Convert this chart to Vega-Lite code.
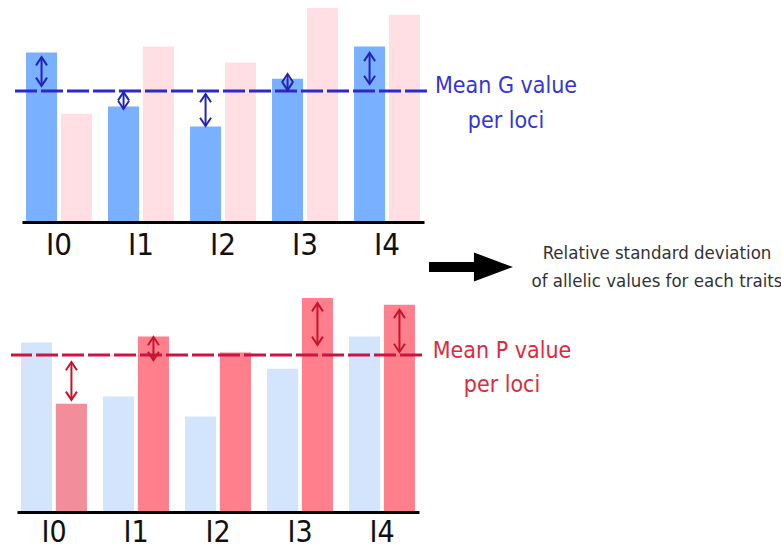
{
  "$schema": "https://vega.github.io/schema/vega-lite/v6.json",
  "background": "white",
  "padding": {"left": 9, "top": 1, "right": 0, "bottom": 0},
  "autosize": {"type": "pad"},
  "config": {"view": {"stroke": null}, "font": "DejaVu Sans Condensed, Liberation Sans"},
  "datasets": {
    "alleles": [
      {"locus": "I0", "trait": "G", "value": 76.6},
      {"locus": "I0", "trait": "P", "value": 48.8},
      {"locus": "I1", "trait": "G", "value": 52.0},
      {"locus": "I1", "trait": "P", "value": 79.3},
      {"locus": "I2", "trait": "G", "value": 43.0},
      {"locus": "I2", "trait": "P", "value": 72.0},
      {"locus": "I3", "trait": "G", "value": 64.7},
      {"locus": "I3", "trait": "P", "value": 96.8},
      {"locus": "I4", "trait": "G", "value": 79.3},
      {"locus": "I4", "trait": "P", "value": 93.8}
    ],
    "means": [
      {"trait": "G", "mean": 59.1, "label": "Mean G value\nper loci"},
      {"trait": "P", "mean": 70.9, "label": "Mean P value\nper loci"}
    ],
    "arrows": [
      {"locus": "I0", "trait": "G", "top": 74.5, "bottom": 61.4},
      {"locus": "I1", "trait": "G", "top": 58.6, "bottom": 50.9},
      {"locus": "I2", "trait": "G", "top": 57.7, "bottom": 43.2},
      {"locus": "I3", "trait": "G", "top": 66.8, "bottom": 59.5},
      {"locus": "I4", "trait": "G", "top": 76.4, "bottom": 62.3},
      {"locus": "I0", "trait": "P", "top": 67.7, "bottom": 50.5},
      {"locus": "I1", "trait": "P", "top": 79.1, "bottom": 68.6},
      {"locus": "I3", "trait": "P", "top": 94.5, "bottom": 75.5},
      {"locus": "I4", "trait": "P", "top": 91.4, "bottom": 72.3}
    ],
    "note": [
      {"text": "Relative standard deviation\nof allelic values for each traits"}
    ]
  },
  "vconcat": [
    {
      "width": 411,
      "height": 220,
      "layer": [
        {
          "data": {"name": "alleles"},
          "mark": {"type": "bar", "opacity": 1},
          "encoding": {
            "x": {
              "field": "locus", "type": "nominal",
              "scale": {"domain": ["I0", "I1", "I2", "I3", "I4"], "range": [11, 413], "paddingInner": 0.196, "paddingOuter": 0.049},
              "axis": {"title": null, "domainColor": "#000000", "domainWidth": 3, "ticks": false, "grid": false, "labelAngle": 0, "labelFontSize": 31, "labelColor": "#111111", "labelPadding": 8, "offset": 1}
            },
            "xOffset": {"field": "trait", "type": "nominal", "scale": {"domain": ["G", "P"], "paddingInner": 0.11}},
            "y": {"field": "value", "type": "quantitative", "scale": {"domain": [0, 100]}, "axis": null},
            "color": {"field": "trait", "type": "nominal", "scale": {"domain": ["G", "P"], "range": ["#79b0ff", "#ffdfe4"]}, "legend": null}
          }
        },
        {
          "data": {"name": "means"},
          "transform": [{"filter": "datum.trait === 'G'"}],
          "mark": {"type": "rule", "strokeDash": [22, 4], "strokeWidth": 3, "color": "#2b2bc4", "xOffset": 5, "x2Offset": 5},
          "encoding": {"y": {"field": "mean", "type": "quantitative"}}
        },
        {
          "data": {"name": "means"},
          "transform": [{"filter": "datum.trait === 'G'"}],
          "mark": {"type": "text", "align": "center", "baseline": "alphabetic", "lineBreak": "\n", "lineHeight": 35, "fontSize": 23, "color": "#3434dc", "dx": 84, "dy": 2},
          "encoding": {"x": {"value": "width"}, "y": {"field": "mean", "type": "quantitative"}, "text": {"field": "label"}}
        },
        {
          "data": {"name": "arrows"},
          "transform": [{"filter": "datum.trait === 'G'"}],
          "mark": {"type": "rule", "strokeWidth": 2, "color": "#2323b8"},
          "encoding": {
            "x": {"field": "locus", "type": "nominal"},
            "xOffset": {"field": "trait", "type": "nominal"},
            "y": {"field": "top", "type": "quantitative"},
            "y2": {"field": "bottom"}
          }
        },
        {
          "data": {"name": "arrows"},
          "transform": [{"filter": "datum.trait === 'G'"}],
          "mark": {"type": "point", "shape": "M-1,1.5L0,0L1,1.5", "size": 121, "filled": false, "opacity": 1, "strokeWidth": 2, "color": "#2323b8"},
          "encoding": {
            "x": {"field": "locus", "type": "nominal"},
            "xOffset": {"field": "trait", "type": "nominal"},
            "y": {"field": "top", "type": "quantitative"}
          }
        },
        {
          "data": {"name": "arrows"},
          "transform": [{"filter": "datum.trait === 'G'"}],
          "mark": {"type": "point", "shape": "M-1,-1.5L0,0L1,-1.5", "size": 121, "filled": false, "opacity": 1, "strokeWidth": 2, "color": "#2323b8"},
          "encoding": {
            "x": {"field": "locus", "type": "nominal"},
            "xOffset": {"field": "trait", "type": "nominal"},
            "y": {"field": "bottom", "type": "quantitative"}
          }
        },
        {
          "data": {"name": "note"},
          "mark": {"type": "text", "align": "center", "baseline": "alphabetic", "lineBreak": "\n", "lineHeight": 28, "fontSize": 18.5, "color": "#333333", "dx": 235, "dy": 38},
          "encoding": {"x": {"value": "width"}, "y": {"datum": 0, "type": "quantitative"}, "text": {"field": "text"}}
        },
        {
          "data": {"name": "note"},
          "mark": {"type": "point", "shape": "M-1,-0.12L0.07,-0.12L0.07,-0.345L1,0L0.07,0.345L0.07,0.12L-1,0.12Z", "size": 7056, "filled": true, "opacity": 1, "color": "#000000", "strokeWidth": 0, "xOffset": 49, "yOffset": 46},
          "encoding": {"x": {"value": "width"}, "y": {"datum": 0, "type": "quantitative"}}
        }
      ]
    },
    {
      "width": 411,
      "height": 220,
      "layer": [
        {
          "data": {"name": "alleles"},
          "mark": {"type": "bar", "opacity": 1},
          "encoding": {
            "x": {
              "field": "locus", "type": "nominal",
              "scale": {"domain": ["I0", "I1", "I2", "I3", "I4"], "range": [6, 408], "paddingInner": 0.196, "paddingOuter": 0.049},
              "axis": {"title": null, "domainColor": "#000000", "domainWidth": 3, "ticks": false, "grid": false, "labelAngle": 0, "labelFontSize": 30, "labelColor": "#111111", "labelPadding": 5, "offset": 1}
            },
            "xOffset": {"field": "trait", "type": "nominal", "scale": {"domain": ["G", "P"], "paddingInner": 0.11}},
            "y": {"field": "value", "type": "quantitative", "scale": {"domain": [0, 100]}, "axis": null},
            "color": {
              "condition": {"test": "datum.locus === 'I0' && datum.trait === 'P'", "value": "#f28d9a"},
              "field": "trait", "type": "nominal", "scale": {"domain": ["G", "P"], "range": ["#d3e4fd", "#ff7f8c"]}, "legend": null
            }
          }
        },
        {
          "data": {"name": "means"},
          "transform": [{"filter": "datum.trait === 'P'"}],
          "mark": {"type": "rule", "strokeDash": [22, 4], "strokeWidth": 3, "color": "#cc1442"},
          "encoding": {"y": {"field": "mean", "type": "quantitative"}}
        },
        {
          "data": {"name": "means"},
          "transform": [{"filter": "datum.trait === 'P'"}],
          "mark": {"type": "text", "align": "center", "baseline": "alphabetic", "lineBreak": "\n", "lineHeight": 34, "fontSize": 23, "color": "#dc2a3c", "dx": 80, "dy": 3},
          "encoding": {"x": {"value": "width"}, "y": {"field": "mean", "type": "quantitative"}, "text": {"field": "label"}}
        },
        {
          "data": {"name": "arrows"},
          "transform": [{"filter": "datum.trait === 'P'"}],
          "mark": {"type": "rule", "strokeWidth": 2, "color": "#c8142a"},
          "encoding": {
            "x": {"field": "locus", "type": "nominal"},
            "xOffset": {"field": "trait", "type": "nominal"},
            "y": {"field": "top", "type": "quantitative"},
            "y2": {"field": "bottom"}
          }
        },
        {
          "data": {"name": "arrows"},
          "transform": [{"filter": "datum.trait === 'P'"}],
          "mark": {"type": "point", "shape": "M-1,1.5L0,0L1,1.5", "size": 121, "filled": false, "opacity": 1, "strokeWidth": 2, "color": "#c8142a"},
          "encoding": {
            "x": {"field": "locus", "type": "nominal"},
            "xOffset": {"field": "trait", "type": "nominal"},
            "y": {"field": "top", "type": "quantitative"}
          }
        },
        {
          "data": {"name": "arrows"},
          "transform": [{"filter": "datum.trait === 'P'"}],
          "mark": {"type": "point", "shape": "M-1,-1.5L0,0L1,-1.5", "size": 121, "filled": false, "opacity": 1, "strokeWidth": 2, "color": "#c8142a"},
          "encoding": {
            "x": {"field": "locus", "type": "nominal"},
            "xOffset": {"field": "trait", "type": "nominal"},
            "y": {"field": "bottom", "type": "quantitative"}
          }
        }
      ]
    }
  ],
  "spacing": 70,
  "bounds": "flush",
  "resolve": {"scale": {"x": "independent", "y": "independent", "color": "independent", "xOffset": "independent"}}
}
